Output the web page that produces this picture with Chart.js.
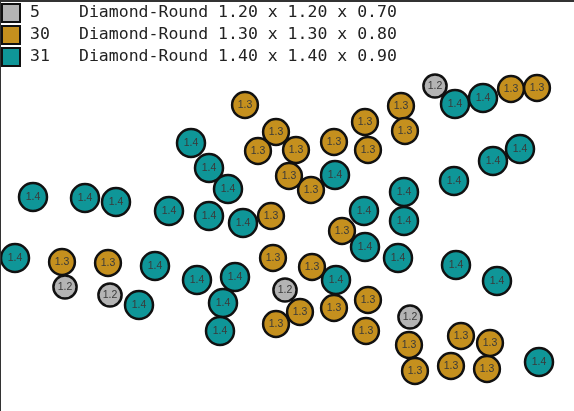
<!DOCTYPE html>
<html>
<head>
<meta charset="utf-8">
<style>
  html, body { margin: 0; padding: 0; background: #fff; }
  #wrap { position: relative; width: 574px; height: 411px; overflow: hidden; }
  #myChart { position: absolute; left: 0; top: 0; }
  #topLine { position: absolute; left: 0; top: 0; width: 574px; height: 2px; background: #333; }
  #leftLine { position: absolute; left: 0; top: 0; width: 1px; height: 411px; background: #333; }
  .swatch { position: absolute; left: 1px; width: 16px; height: 16px; border: 2px solid #111; }
  .row { position: absolute; font: 16.5px "DejaVu Sans Mono", monospace; color: #222; white-space: pre; line-height: 20px; }
</style>
</head>
<body>
<div id="wrap">
  <canvas id="myChart" width="574" height="411"></canvas>
  <div id="topLine"></div>
  <div id="leftLine"></div>
  <div id="legend"></div>
</div>
<script src="https://cdn.jsdelivr.net/npm/chart.js@4"></script>
<script>
const counts = ['5', '30', '31'];
const shapes = ['Diamond-Round', 'Diamond-Round', 'Diamond-Round'];
const sizes = ['1.20 x 1.20 x 0.70', '1.30 x 1.30 x 0.80', '1.40 x 1.40 x 0.90'];
const labels = ['1.2', '1.3', '1.4'];
const colors = ['#b4b4b4', '#c5901e', '#0f9698'];

const greyX = [435, 65, 110, 285, 410];
const greyY = [86, 287, 295, 290, 317];
const goldX = [245, 401, 405, 365, 276, 334, 258, 296, 368, 289, 311, 271, 342, 62, 108, 273, 312, 368, 334, 300, 276, 366, 409, 461, 490, 451, 487, 415, 511, 537];
const goldY = [105, 106, 131, 122, 132, 142, 151, 150, 150, 176, 190, 216, 231, 262, 263, 258, 267, 300, 308, 312, 324, 331, 345, 336, 343, 366, 369, 371, 89, 88];
const tealX = [455, 483, 191, 209, 228, 335, 520, 493, 454, 404, 33, 85, 116, 169, 209, 243, 364, 404, 365, 398, 15, 155, 197, 235, 336, 456, 497, 223, 139, 220, 539];
const tealY = [104, 98, 143, 168, 189, 175, 149, 161, 181, 192, 197, 198, 202, 211, 216, 223, 211, 221, 247, 258, 258, 266, 280, 277, 280, 265, 281, 303, 305, 331, 362];
const radii = [11.6, 12.9, 14];

function points(xs, ys, r) {
    return xs.map(function (x, i) { return { x: x, y: ys[i], r: r }; });
}

const bubbleLabels = {
    id: 'bubbleLabels',
    afterDatasetsDraw(chart) {
        const c = chart.ctx;
        c.save();
        c.font = '10.5px "Liberation Sans", Arial, sans-serif';
        c.textAlign = 'center';
        c.textBaseline = 'middle';
        c.fillStyle = '#3a3a3a';
        chart.data.datasets.forEach(function (ds, i) {
            chart.getDatasetMeta(i).data.forEach(function (el) {
                c.fillText(ds.label, el.x, el.y);
            });
        });
        c.restore();
    }
};

const ctx = document.getElementById('myChart').getContext('2d');
const myChart = new Chart(ctx, {
    type: 'bubble',
    data: {
        datasets: [
            { label: labels[0], data: points(greyX, greyY, radii[0]), backgroundColor: colors[0], borderColor: '#111', borderWidth: 2.5 },
            { label: labels[1], data: points(goldX, goldY, radii[1]), backgroundColor: colors[1], borderColor: '#111', borderWidth: 2.5 },
            { label: labels[2], data: points(tealX, tealY, radii[2]), backgroundColor: colors[2], borderColor: '#111', borderWidth: 2.5 }
        ]
    },
    options: {
        responsive: false,
        animation: false,
        layout: { padding: 0, autoPadding: false },
        plugins: { legend: { display: false }, tooltip: { enabled: false } },
        scales: {
            x: { type: 'linear', display: false, min: 0, max: 574 },
            y: { type: 'linear', display: false, min: 0, max: 411, reverse: true }
        }
    },
    plugins: [bubbleLabels]
});

// legend rows on top of the chart
const legend = document.getElementById('legend');
counts.forEach(function (n, i) {
    const top = 3 + i * 22;
    const sw = document.createElement('div');
    sw.className = 'swatch';
    sw.style.top = top + 'px';
    sw.style.background = colors[i];
    legend.appendChild(sw);
    const a = document.createElement('div');
    a.className = 'row';
    a.style.left = '30px';
    a.style.top = (top - 1) + 'px';
    a.textContent = n;
    legend.appendChild(a);
    const b = document.createElement('div');
    b.className = 'row';
    b.style.left = '79px';
    b.style.top = (top - 1) + 'px';
    b.textContent = shapes[i] + ' ' + sizes[i];
    legend.appendChild(b);
});
</script>
</body>
</html>
